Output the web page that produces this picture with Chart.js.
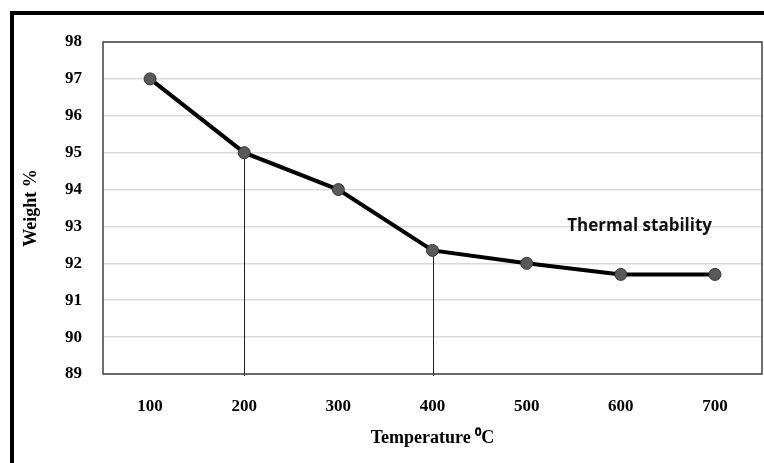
<!DOCTYPE html>
<html><head><meta charset="utf-8">
<script src="https://cdn.jsdelivr.net/npm/chart.js@4/dist/chart.umd.min.js"></script>
<style>
html,body{margin:0;padding:0;background:#fff;}
#wrap{position:relative;width:764px;height:463px;overflow:hidden;}
#frame{position:absolute;left:10px;top:11px;width:760px;height:460px;border-top:4px solid #000;border-left:4px solid #000;}
#c{position:absolute;left:0;top:0;}
</style></head>
<body>
<div id="wrap"><div id="frame"></div><canvas id="c" width="764" height="463"></canvas></div>
<script>
const categories = ['100','200','300','400','500','600','700'];
const weights = [97, 95, 94, 92.35, 92, 91.7, 91.7];
const yTicks = [89, 98];
const dropLineCategories = ['200','400'];
const noteText = 'Thermal stability';
const noteAnchor = {x: 5.2, y: 93};

const serif = 'Liberation Serif';

const framePlugin = {
  id: 'framePlugin',
  beforeDatasetsDraw(chart) {
    const {ctx, chartArea: a, scales} = chart;
    ctx.save();
    ctx.strokeStyle = '#222';
    ctx.lineWidth = 1;
    dropLineCategories.forEach(cat => {
      const i = categories.indexOf(cat);
      const x = Math.round(scales.x.getPixelForValue(i)) + 0.5;
      const y = scales.y.getPixelForValue(weights[i]);
      ctx.beginPath(); ctx.moveTo(x, y); ctx.lineTo(x, a.bottom + 2); ctx.stroke();
    });
    ctx.restore();
  },
  afterDraw(chart) {
    const {ctx, chartArea: a, scales} = chart;
    ctx.save();
    ctx.strokeStyle = '#404040';
    ctx.lineWidth = 1.5;
    ctx.strokeRect(a.left, a.top, a.right - a.left, a.bottom - a.top);
    ctx.font = 'bold 17px "Open Sans"';
    ctx.fillStyle = '#111';
    ctx.textAlign = 'center';
    ctx.textBaseline = 'middle';
    ctx.fillText(noteText, scales.x.getPixelForValue(noteAnchor.x), scales.y.getPixelForValue(noteAnchor.y));
    ctx.restore();
  }
};

new Chart(document.getElementById('c'), {
  type: 'line',
  data: {
    labels: categories,
    datasets: [{
      data: weights,
      borderColor: '#000',
      borderWidth: 4,
      pointRadius: 6,
      pointBackgroundColor: '#595959',
      pointBorderColor: '#333',
      pointBorderWidth: 1,
      tension: 0
    }]
  },
  options: {
    responsive: false,
    animation: false,
    layout: {autoPadding: false, padding: {top: 42, right: 2, left: 0, bottom: 0}},
    plugins: {legend: {display: false}, tooltip: {enabled: false}},
    scales: {
      x: {
        offset: true,
        grid: {display: false, drawTicks: false},
        border: {display: false},
        ticks: {color: '#000', padding: 22, font: {family: serif, size: 17, weight: 'bold'}},
        title: {display: true, text: 'Temperature \u2070C', color: '#000', padding: {top: 0, bottom: 14}, font: {family: serif, size: 18, weight: 'bold'}},
        afterFit(s) { s.height = 89; }
      },
      y: {
        min: yTicks[0], max: yTicks[1],
        grid: {color: '#d9d9d9', lineWidth: 1.5, drawTicks: false},
        border: {display: false},
        ticks: {stepSize: 1, color: '#000', padding: 21, font: {family: serif, size: 17, weight: 'bold'}},
        title: {display: true, text: 'Weight %', color: '#000', padding: {top: 21, bottom: 0}, font: {family: serif, size: 18, weight: 'bold'}},
        afterFit(s) { s.width = 103; }
      }
    }
  },
  plugins: [framePlugin]
});
</script>
</body></html>
